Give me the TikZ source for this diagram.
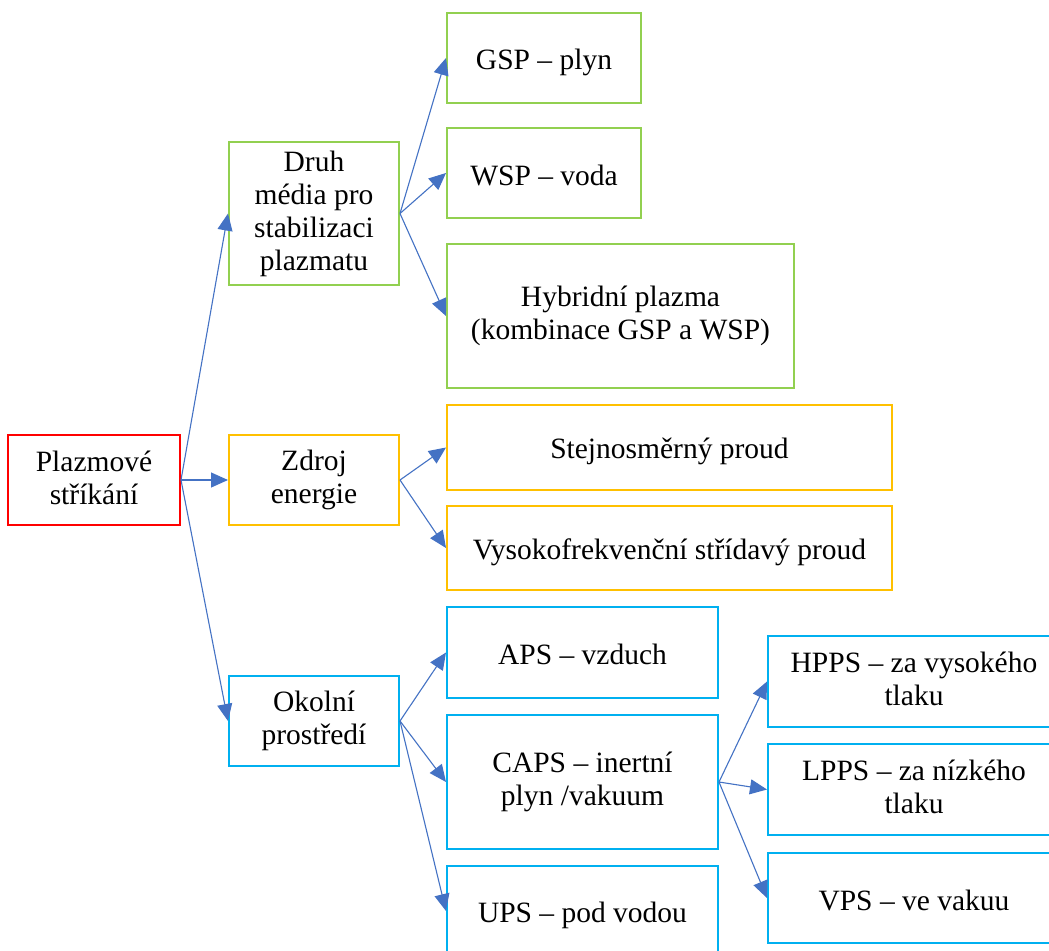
\documentclass[tikz,border=0pt]{standalone}
\usepackage{fontspec}
\setmainfont{Liberation Serif}
\usetikzlibrary{arrows.meta}
\definecolor{cred}{HTML}{FF0000}
\definecolor{cgreen}{HTML}{92D050}
\definecolor{camber}{HTML}{FFC000}
\definecolor{ccyan}{HTML}{00B0F0}
\definecolor{carrow}{HTML}{4472C4}
\newcommand\topstrut{\rule{0pt}{29bp}}
\newcommand\botstrut{\rule[-5bp]{0pt}{5bp}}
\begin{document}
\begin{tikzpicture}[x=1bp,y=-1bp,
  box/.style={draw, line width=2bp, align=center, inner sep=0pt, text=black,
    font=\fontsize{29.5bp}{33bp}\selectfont,
    execute at begin node=\topstrut, execute at end node=\botstrut},
  redbox/.style={box, draw=cred},
  greenbox/.style={box, draw=cgreen},
  amberbox/.style={box, draw=camber},
  cyanbox/.style={box, draw=ccyan},
  conn/.style={draw=carrow, line width=1.1bp, -{Triangle[length=17bp,width=15bp,fill=carrow]}}]
\useasboundingbox (0,0) rectangle (1049,951);
\clip (0,0) rectangle (1049,951);
\fill[white] (0,0) rectangle (1049,951);

\node[redbox, minimum width=172bp, minimum height=90bp] (root) at (94,480) {Plazmové\\stříkání};

\node[greenbox, minimum width=170bp, minimum height=143bp] (druh) at (314,213.5) {Druh\\média pro\\stabilizaci\\plazmatu};
\node[amberbox, minimum width=170bp, minimum height=90bp] (zdroj) at (314,480) {Zdroj\\energie};
\node[cyanbox, minimum width=170bp, minimum height=90bp] (okolni) at (314,721) {Okolní\\prostředí};

\node[greenbox, minimum width=194bp, minimum height=90bp] (gsp) at (544,58) {GSP – plyn};
\node[greenbox, minimum width=194bp, minimum height=90bp] (wsp) at (544,173) {WSP – voda};
\node[greenbox, minimum width=347bp, minimum height=144bp] (hyb) at (620.5,316) {Hybridní plazma\\(kombinace GSP a WSP)};

\node[amberbox, minimum width=445bp, minimum height=85bp] (stej) at (669.5,447.5) {Stejnosměrný proud};
\node[amberbox, minimum width=445bp, minimum height=84bp] (vys) at (669.5,548) {Vysokofrekvenční střídavý proud};

\node[cyanbox, minimum width=271bp, minimum height=91bp] (aps) at (582.5,652.5) {APS – vzduch};
\node[cyanbox, minimum width=271bp, minimum height=134bp] (caps) at (582.5,782) {CAPS – inertní\\plyn /vakuum};
\node[cyanbox, minimum width=271bp, minimum height=90bp] (ups) at (582.5,911) {UPS – pod vodou};

\node[cyanbox, minimum width=292bp, minimum height=91bp] (hpps) at (914,681.5) {HPPS – za vysokého\\tlaku};
\node[cyanbox, minimum width=292bp, minimum height=91bp] (lpps) at (914,789.5) {LPPS – za nízkého\\tlaku};
\node[cyanbox, minimum width=292bp, minimum height=90bp] (vps) at (914,898) {VPS – ve vakuu};

\draw[conn] (root.east) -- (druh.west);
\draw[conn] (root.east) -- (zdroj.west);
\draw[conn] (root.east) -- (okolni.west);

\draw[conn] (druh.east) -- (gsp.west);
\draw[conn] (druh.east) -- (wsp.west);
\draw[conn] (druh.east) -- (hyb.west);

\draw[conn] (zdroj.east) -- (stej.west);
\draw[conn] (zdroj.east) -- (vys.west);

\draw[conn] (okolni.east) -- (aps.west);
\draw[conn] (okolni.east) -- (caps.west);
\draw[conn] (okolni.east) -- (ups.west);

\draw[conn] (caps.east) -- (hpps.west);
\draw[conn] (caps.east) -- (lpps.west);
\draw[conn] (caps.east) -- (vps.west);
\end{tikzpicture}
\end{document}
